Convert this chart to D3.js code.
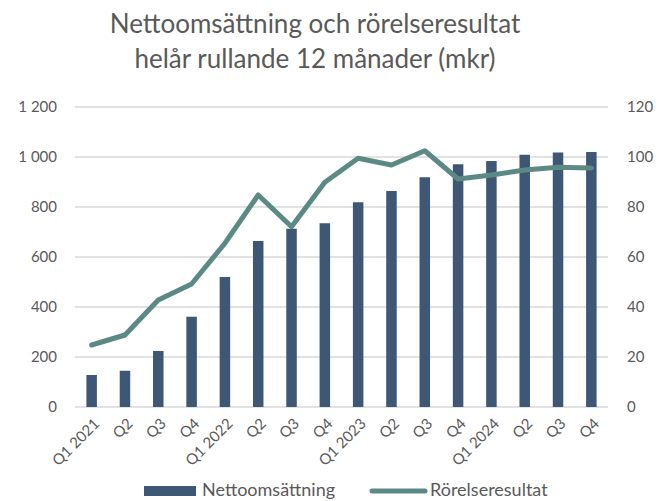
<!DOCTYPE html>
<html>
<head>
<meta charset="utf-8">
<script src="https://cdn.jsdelivr.net/npm/d3@7"></script>
<style>
  body { margin: 0; background: #fff; }
  text { font-family: Lato, "Open Sans", sans-serif; fill: #595959; }
</style>
</head>
<body>
<div id="chart"></div>
<script>
"use strict";
const categories = ["Q1 2021", "Q2", "Q3", "Q4", "Q1 2022", "Q2", "Q3", "Q4",
  "Q1 2023", "Q2", "Q3", "Q4", "Q1 2024", "Q2", "Q3", "Q4"];
const nettoomsattning = [128, 145, 224, 361, 520, 664, 713, 735, 819, 864, 919, 971, 984, 1009, 1018, 1020];
const rorelseresultat = [24.8, 28.8, 42.8, 49.2, 65.5, 84.8, 72.1, 89.9, 99.5, 96.8, 102.5, 91.2, 92.8, 94.8, 95.9, 95.6];
const leftTicks = [0, 200, 400, 600, 800, 1000, 1200];
const rightTicks = [0, 20, 40, 60, 80, 100, 120];
const titleLines = ["Nettoomsättning och rörelseresultat", "helår rullande 12 månader (mkr)"];

const W = 667, H = 501;
const margin = { top: 107, right: 59, bottom: 94, left: 75 };
const width = W - margin.left - margin.right;
const height = H - margin.top - margin.bottom;

const svg = d3.select("#chart").append("svg")
  .attr("width", W).attr("height", H);

svg.selectAll(".title").data(titleLines).enter().append("text")
  .attr("x", 315).attr("y", (d, i) => 33 + i * 35)
  .attr("text-anchor", "middle")
  .style("font-size", "26px")
  .text(d => d);

const g = svg.append("g").attr("transform", `translate(${margin.left},${margin.top})`);

const x = d3.scaleBand().domain(d3.range(categories.length)).range([0, width]);
const yL = d3.scaleLinear().domain([0, 1200]).range([height, 0]);
const yR = d3.scaleLinear().domain([0, 120]).range([height, 0]);

// gridlines
g.selectAll(".grid").data(leftTicks).enter().append("line")
  .attr("x1", 0).attr("x2", width)
  .attr("y1", d => yL(d)).attr("y2", d => yL(d))
  .attr("stroke", "#d9d9d9").attr("stroke-width", 1.3);

const fmt = d => d3.format(",")(d).replace(/,/g, " ");

const axL = g.append("g").call(d3.axisLeft(yL).tickValues(leftTicks).tickFormat(fmt).tickSize(0).tickPadding(18));
const axR = g.append("g").attr("transform", `translate(${width},0)`)
  .call(d3.axisRight(yR).tickValues(rightTicks).tickSize(0).tickPadding(19));
[axL, axR].forEach(a => {
  a.select(".domain").remove();
  a.selectAll("text").style("font-size", "15px").style("font-family", "Lato, sans-serif").attr("fill", "#595959");
});

// bars
const barW = 10.5;
g.selectAll(".bar").data(nettoomsattning).enter().append("rect")
  .attr("x", (d, i) => x(i) + x.bandwidth() / 2 - barW / 2)
  .attr("width", barW)
  .attr("y", d => yL(d))
  .attr("height", d => height - yL(d))
  .attr("fill", "#3d5775");

// line
const line = d3.line()
  .x((d, i) => x(i) + x.bandwidth() / 2)
  .y(d => yR(d));
g.append("path").datum(rorelseresultat)
  .attr("d", line)
  .attr("fill", "none")
  .attr("stroke", "#5b8a84")
  .attr("stroke-width", 5)
  .attr("stroke-linejoin", "round")
  .attr("stroke-linecap", "round");

// x labels
g.selectAll(".xl").data(categories).enter().append("text")
  .attr("transform", (d, i) => `translate(${x(i) + x.bandwidth() / 2 + 5},${height + 14}) rotate(-45)`)
  .attr("text-anchor", "end")
  .attr("dy", "0.35em")
  .style("font-size", "15px")
  .text(d => d);

// legend
const lg = svg.append("g");
lg.append("rect").attr("x", 144).attr("y", 486).attr("width", 52).attr("height", 10).attr("fill", "#3d5775");
lg.append("text").attr("x", 202).attr("y", 496).style("font-size", "18px").text("Nettoomsättning");
lg.append("line").attr("x1", 372).attr("x2", 425).attr("y1", 491).attr("y2", 491)
  .attr("stroke", "#5b8a84").attr("stroke-width", 5).attr("stroke-linecap", "round");
lg.append("text").attr("x", 430).attr("y", 496).style("font-size", "18px").text("Rörelseresultat");
</script>
</body>
</html>
